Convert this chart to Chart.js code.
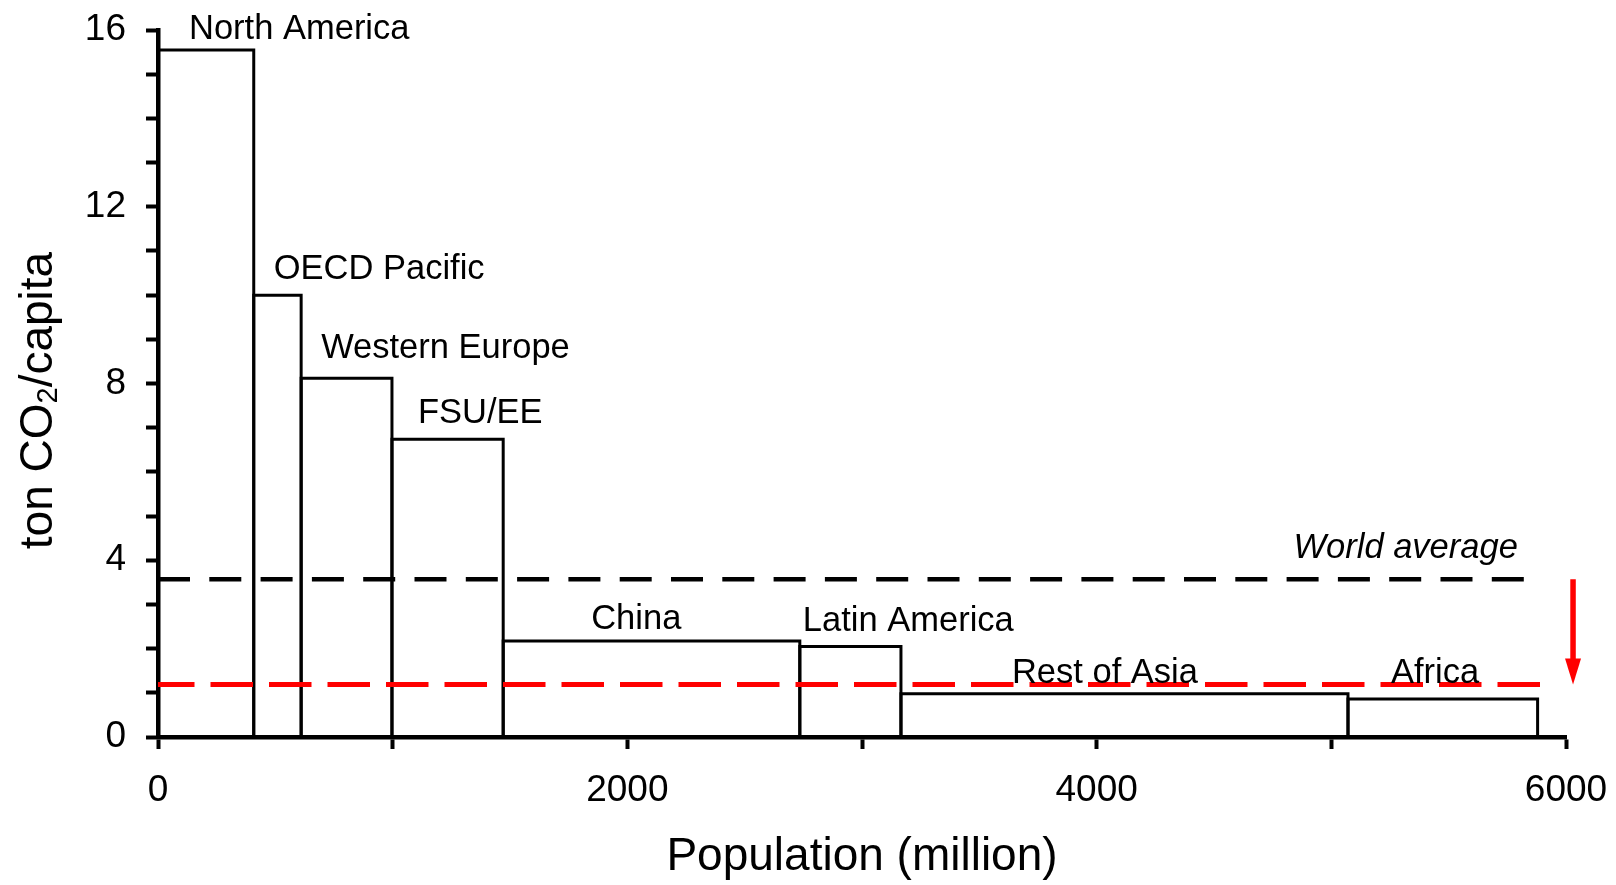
<!DOCTYPE html>
<html>
<head>
<meta charset="utf-8">
<script src="https://cdn.jsdelivr.net/npm/chart.js@4"></script>
<style>
  html, body { margin: 0; padding: 0; background: #fff; }
  #wrap { width: 1616px; height: 885px; }
</style>
</head>
<body>
<div id="wrap"><canvas id="co2Chart"></canvas></div>
<script>
// CO2 per capita by region, bar width = population
var regions = ['North America', 'OECD Pacific', 'Western Europe', 'FSU/EE', 'China', 'Latin America', 'Rest of Asia', 'Africa'];
var population = [408, 202, 387, 474, 1264, 431, 1905, 808]; // million
var perCapita = [15.55, 10.0, 8.12, 6.74, 2.17, 2.05, 0.98, 0.86]; // ton CO2 / capita

var worldAverage = 3.57;
var avgSpan = [0, 5880];
var targetLevel = 1.19;
var targetSpan = [0, 5905];
var arrowX = 6030;

var xTicks = [0, 2000, 4000, 6000];
var yTicks = [0, 4, 8, 12, 16];

// label placement: [px right of bar's left edge, px above bar top]
var labelShift = [[31, 11], [20, 16], [20, 20], [26, 16], [88, 12], [3, 15], [111, 11], [43, 16]];

var FONT = '"Liberation Sans", Arial, sans-serif';
Chart.defaults.font.family = FONT;
Chart.defaults.color = '#000';

var edges = [0];
population.forEach(function (p, i) { edges.push(edges[i] + p); });

var barSets = regions.map(function (name, i) {
   return {
      label: name,
      data: [
         { x: edges[i], y: 0 },
         { x: edges[i], y: perCapita[i] },
         { x: edges[i + 1], y: perCapita[i] },
         { x: edges[i + 1], y: 0 },
      ],
      showLine: true,
      borderColor: '#000',
      borderWidth: 3,
      borderJoinStyle: 'miter',
      pointRadius: 0,
      fill: false,
      order: 2,
   };
});

var lineSets = [
   {
      label: 'World average',
      data: [{ x: avgSpan[0], y: worldAverage }, { x: avgSpan[1], y: worldAverage }],
      showLine: true,
      borderColor: '#000',
      borderWidth: 4.5,
      borderDash: [32, 19.3],
      pointRadius: 0,
      order: 1,
   },
   {
      label: 'Target',
      data: [{ x: targetSpan[0], y: targetLevel }, { x: targetSpan[1], y: targetLevel }],
      showLine: true,
      borderColor: '#ff0000',
      borderWidth: 5,
      borderDash: [42.5, 16],
      borderDashOffset: 6,
      pointRadius: 0,
      order: 0,
   },
];

// region names, world average text, the red arrow and the y title
var annotate = {
   id: 'annotate',
   afterDatasetsDraw: function (chart) {
      var ctx = chart.ctx;
      var xs = chart.scales.x;
      var ys = chart.scales.y;
      ctx.save();
      ctx.fillStyle = '#000';
      ctx.textBaseline = 'alphabetic';
      ctx.textAlign = 'left';
      ctx.font = '34.5px ' + FONT;
      regions.forEach(function (name, i) {
         var px = xs.getPixelForValue(edges[i]) + labelShift[i][0];
         var py = ys.getPixelForValue(perCapita[i]) - labelShift[i][1];
         ctx.fillText(name, px, py);
      });

      ctx.font = 'italic 34.5px ' + FONT;
      ctx.textAlign = 'right';
      ctx.fillText('World average', xs.getPixelForValue(avgSpan[1]) - 20, ys.getPixelForValue(worldAverage) - 21);

      // arrow from world average down to target
      var ax = xs.getPixelForValue(arrowX);
      var ay0 = ys.getPixelForValue(worldAverage);
      var ay1 = ys.getPixelForValue(targetLevel);
      ctx.strokeStyle = '#ff0000';
      ctx.fillStyle = '#ff0000';
      ctx.lineWidth = 5.5;
      ctx.beginPath();
      ctx.moveTo(ax, ay0);
      ctx.lineTo(ax, ay1 - 22);
      ctx.stroke();
      ctx.beginPath();
      ctx.moveTo(ax - 8, ay1 - 26);
      ctx.lineTo(ax + 8, ay1 - 26);
      ctx.lineTo(ax, ay1);
      ctx.closePath();
      ctx.fill();

      // y axis title with subscript
      var big = '46px ' + FONT;
      var small = '29px ' + FONT;
      ctx.font = big;
      var w1 = ctx.measureText('ton CO').width;
      var w3 = ctx.measureText('/capita').width;
      ctx.font = small;
      var w2 = ctx.measureText('2').width;
      var total = w1 + w2 + w3;
      var cy = (ys.top + ys.bottom) / 2 + 17;
      ctx.translate(52, cy);
      ctx.rotate(-Math.PI / 2);
      ctx.fillStyle = '#000';
      ctx.textAlign = 'left';
      ctx.font = big;
      ctx.fillText('ton CO', -total / 2, 0);
      ctx.font = small;
      ctx.fillText('2', -total / 2 + w1, 5);
      ctx.font = big;
      ctx.fillText('/capita', -total / 2 + w1 + w2, 0);
      ctx.restore();
   },
};

new Chart('co2Chart', {
   type: 'scatter',
   data: { datasets: lineSets.concat(barSets) },
   options: {
      responsive: true,
      maintainAspectRatio: false,
      animation: false,
      layout: { padding: { top: 30, right: 50, left: 0, bottom: 0 } },
      plugins: {
         legend: { display: false },
         tooltip: { enabled: false },
      },
      scales: {
         x: {
            type: 'linear',
            min: 0,
            max: 6000,
            ticks: {
               stepSize: 1000,
               autoSkip: false,
               maxRotation: 0,
               padding: 20,
               color: '#000',
               font: { size: 37 },
               callback: function (v) { return xTicks.indexOf(v) >= 0 ? String(v) : ''; },
            },
            grid: { drawOnChartArea: false, drawTicks: true, tickLength: 12, tickWidth: 4, tickColor: '#000' },
            border: { display: true, color: '#000', width: 4.5 },
            title: { display: true, text: 'Population (million)', color: '#000', font: { size: 46 }, padding: { top: 0, bottom: 0 } },
            afterFit: function (s) {
               s.height = 148;
               s.paddingLeft = 0;
               s.paddingRight = 0;
            },
         },
         y: {
            type: 'linear',
            min: 0,
            max: 16,
            ticks: {
               stepSize: 1,
               autoSkip: false,
               padding: 20,
               color: '#000',
               font: { size: 37 },
               callback: function (v) { return yTicks.indexOf(v) >= 0 ? String(v) : ''; },
            },
            grid: { drawOnChartArea: false, drawTicks: true, tickLength: 12, tickWidth: 4, tickColor: '#000' },
            border: { display: true, color: '#000', width: 4.5 },
            afterFit: function (s) {
               s.width = 158;
               s.paddingTop = 0;
               s.paddingBottom = 0;
            },
         },
      },
   },
   plugins: [annotate],
});
</script>
</body>
</html>
